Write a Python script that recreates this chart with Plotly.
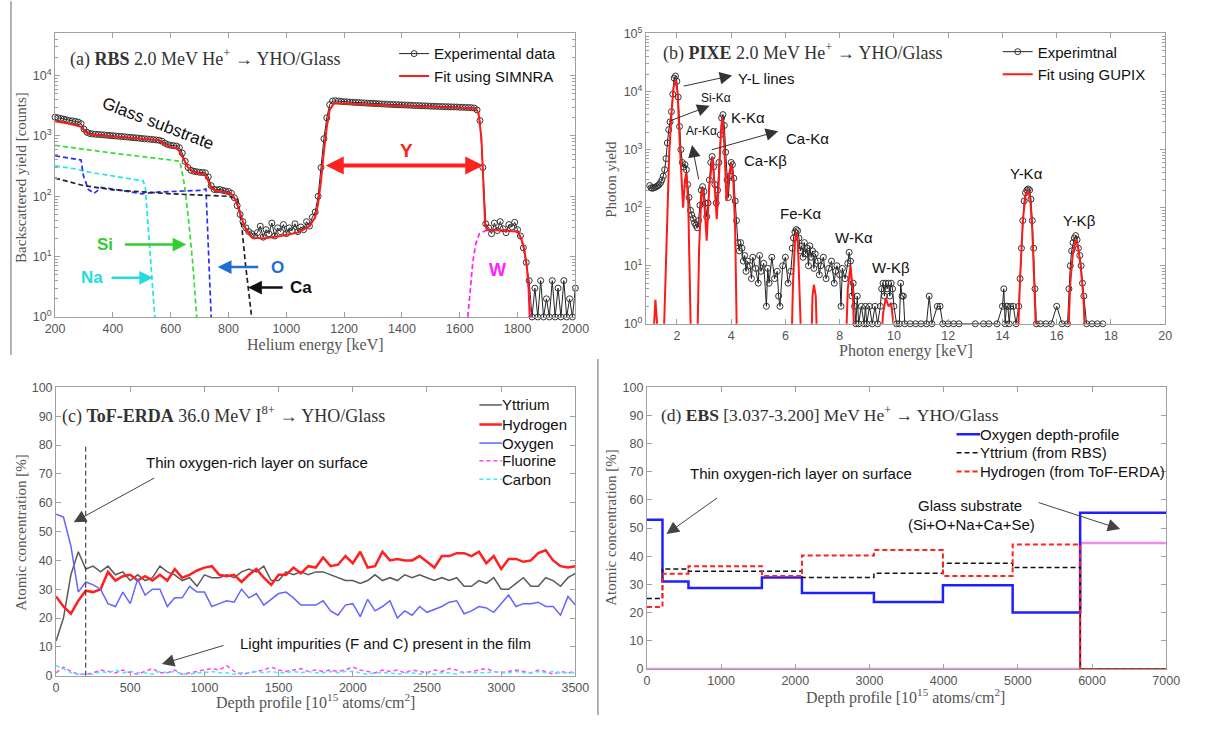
import plotly.graph_objects as go

# page is 1207x731; the browser adds an 8px body margin around the figure
PAGE_W, PAGE_H = 1207, 731
OFF = 8
W, H = PAGE_W - 2 * OFF, PAGE_H - 2 * OFF

# ---------------- (a) RBS data ----------------
rbs_energy = list(range(200, 2001, 10))
rbs_counts = [
    2050, 2000, 1950, 1900, 1850, 1800, 1780, 1750, 1700, 1600,
    1300, 1150, 1100, 1080, 1070, 1060, 1050, 1040, 1030, 1020,
    1010, 1000, 990, 980, 970, 960, 950, 940, 930, 920,
    910, 900, 890, 880, 870, 860, 850, 820, 760, 720,
    700, 690, 680, 640, 520, 380, 300, 270, 260, 255,
    250, 248, 245, 210, 150, 130, 128, 130, 125, 122,
    120, 112, 95, 70, 50, 38, 30, 26, 24, 22,
    25, 32, 21, 28, 24, 36, 22, 30, 26, 34,
    24, 30, 27, 35, 26, 31, 28, 38, 32, 45,
    55, 100, 300, 900, 2000, 3300, 3800, 3850, 3800, 3750,
    3700, 3680, 3650, 3620, 3600, 3580, 3550, 3530, 3500, 3480,
    3460, 3440, 3420, 3400, 3380, 3360, 3340, 3320, 3300, 3290,
    3280, 3260, 3250, 3230, 3210, 3200, 3180, 3170, 3150, 3140,
    3120, 3110, 3100, 3080, 3070, 3060, 3050, 3040, 3030, 3020,
    3000, 2990, 2980, 2960, 2950, 2900, 2700, 1800, 300, 35,
    30, 24, 36, 27, 38, 29, 25, 34, 31, 37,
    28, 22, 14, 8, 4, 1, 3, 1, 4, 1,
    2, 1, 4, 1, 3, 1, 4, 1, 2, 1,
    3,
]
rbs_fit = [
    (200, 1750), (250, 1600), (290, 1420), (305, 1150), (320, 1060), (400, 990),
    (500, 900), (560, 850), (580, 720), (600, 660), (625, 620), (640, 460),
    (660, 300), (680, 250), (700, 240), (718, 230), (728, 190), (740, 135),
    (760, 122), (800, 115), (815, 105), (830, 75), (845, 45), (860, 28),
    (880, 21), (920, 20), (980, 22), (1040, 25), (1080, 32), (1100, 45),
    (1110, 75), (1120, 180), (1130, 550), (1140, 1400), (1150, 2700), (1165, 3500),
    (1200, 3450), (1300, 3280), (1400, 3150), (1500, 3050), (1600, 2950), (1655, 2850),
    (1665, 2400), (1675, 900), (1682, 150), (1688, 32), (1700, 28), (1750, 27),
    (1800, 26), (1812, 20), (1822, 14), (1832, 7), (1838, 3), (1842, 1),
]
si_curve = [(200, 700), (400, 520), (600, 400), (632, 380), (648, 150), (662, 40), (676, 8), (690, 1)]
na_curve = [(200, 320), (280, 280), (300, 260), (400, 220), (505, 180), (512, 140), (522, 30), (534, 5), (545, 1)]
o_curve = [(200, 470), (290, 400), (298, 220), (315, 130), (335, 112), (360, 140), (400, 132),
           (460, 118), (500, 110), (560, 118), (640, 120), (700, 125), (722, 132), (728, 30),
           (734, 6), (740, 1)]
ca_curve = [(200, 200), (300, 150), (400, 128), (500, 118), (600, 110), (700, 105), (800, 100),
            (832, 90), (845, 35), (858, 8), (868, 3), (880, 1)]
w_curve = [(1628, 1), (1636, 3), (1645, 8), (1655, 16), (1668, 24), (1690, 27), (1750, 27.5),
           (1800, 26.5), (1815, 19), (1825, 12), (1835, 5), (1842, 2), (1846, 1)]

# ---------------- (b) PIXE data ----------------
pixe_points = [
    (1.00, 240), (1.05, 220), (1.10, 215), (1.15, 220), (1.20, 225), (1.25, 230), (1.30, 240),
    (1.35, 250), (1.40, 270), (1.45, 300), (1.50, 350), (1.55, 450), (1.60, 700), (1.65, 1300),
    (1.70, 2200), (1.75, 3000), (1.80, 4500), (1.85, 9000), (1.90, 17000), (1.95, 18500),
    (2.00, 15000), (2.05, 8000), (2.10, 2500), (2.15, 1000), (2.20, 600), (2.25, 500), (2.30, 550),
    (2.35, 450), (2.40, 250), (2.45, 150), (2.50, 90), (2.55, 75), (2.60, 65), (2.65, 55),
    (2.70, 50), (2.75, 45), (2.80, 60), (2.85, 110), (2.90, 200), (2.95, 230), (3.00, 190),
    (3.05, 120), (3.10, 70), (3.15, 120), (3.20, 300), (3.25, 600), (3.30, 760), (3.35, 500),
    (3.40, 250), (3.45, 120), (3.50, 200), (3.55, 600), (3.60, 1800), (3.65, 3500), (3.70, 4000),
    (3.75, 2600), (3.80, 900), (3.85, 300), (3.90, 150), (3.95, 350), (4.00, 600), (4.05, 550),
    (4.10, 320), (4.15, 130), (4.20, 60), (4.25, 25), (4.30, 18), (4.35, 25), (4.40, 20),
    (4.45, 12), (4.50, 15), (4.55, 8), (4.60, 12), (4.70, 10), (4.75, 6), (4.80, 14), (4.90, 9),
    (5.00, 5), (5.05, 15), (5.10, 8), (5.20, 11), (5.30, 2), (5.35, 9), (5.40, 5), (5.50, 14),
    (5.60, 6), (5.70, 8), (5.75, 3), (5.80, 2), (5.90, 10), (6.00, 14), (6.10, 5), (6.20, 8),
    (6.25, 20), (6.30, 30), (6.35, 38), (6.40, 42), (6.45, 40), (6.50, 30), (6.55, 18),
    (6.60, 22), (6.65, 14), (6.70, 25), (6.75, 16), (6.80, 20), (6.85, 10), (6.90, 22),
    (6.95, 14), (7.00, 18), (7.05, 9), (7.10, 16), (7.20, 12), (7.25, 7), (7.30, 10), (7.40, 14),
    (7.50, 6), (7.60, 9), (7.70, 12), (7.80, 5), (7.85, 8), (7.90, 10), (8.00, 7), (8.05, 2),
    (8.10, 9), (8.20, 6), (8.30, 11), (8.35, 17), (8.40, 12), (8.45, 3), (8.50, 5), (8.55, 2),
    (8.60, 1), (8.65, 3), (8.70, 1), (8.80, 2), (8.90, 1), (8.95, 2), (9.00, 1), (9.10, 2),
    (9.20, 1), (9.30, 2), (9.40, 1), (9.50, 2), (9.55, 4), (9.60, 5), (9.65, 3), (9.70, 5),
    (9.75, 4), (9.80, 5), (9.85, 3), (9.90, 5), (9.95, 4), (10.00, 2), (10.10, 1), (10.20, 1),
    (10.25, 5), (10.30, 3), (10.35, 3), (10.40, 1), (10.60, 1), (10.80, 1), (11.00, 1),
    (11.20, 1), (11.30, 3), (11.40, 1), (11.60, 2), (11.70, 2), (11.80, 1), (12.00, 1),
    (12.20, 1), (12.40, 1), (13.00, 1), (13.30, 1), (13.50, 1), (13.80, 1), (14.00, 2),
    (14.05, 4), (14.10, 1), (14.15, 2), (14.20, 2), (14.25, 1), (14.30, 2), (14.40, 2),
    (14.50, 1), (14.60, 2), (14.65, 6), (14.70, 20), (14.75, 60), (14.80, 130), (14.85, 180),
    (14.90, 200), (14.95, 210), (15.00, 200), (15.05, 140), (15.10, 60), (15.15, 20),
    (15.20, 4), (15.25, 1), (15.40, 1), (15.60, 1), (15.80, 1), (16.00, 2), (16.20, 1),
    (16.40, 1), (16.45, 4), (16.50, 10), (16.55, 18), (16.60, 25), (16.65, 30), (16.70, 33),
    (16.75, 28), (16.80, 20), (16.85, 15), (16.90, 10), (16.95, 5), (17.00, 3), (17.10, 1),
    (17.30, 1), (17.50, 1), (17.70, 1),
]
pixe_fit = [
    (1.05, 0.3), (1.15, 0.8), (1.21, 2.6), (1.27, 0.8), (1.35, 0.3), (1.50, 0.3), (1.58, 8),
    (1.65, 120), (1.72, 900), (1.80, 4000), (1.88, 12000), (1.96, 15500), (2.03, 9000),
    (2.10, 1500), (2.17, 250), (2.23, 100), (2.30, 300), (2.35, 400), (2.42, 120), (2.48, 8),
    (2.53, 0.3), (2.75, 0.3), (2.82, 20), (2.90, 150), (2.96, 215), (3.03, 90), (3.10, 27),
    (3.20, 250), (3.32, 740), (3.40, 200), (3.47, 63), (3.55, 300), (3.62, 1800), (3.68, 3600),
    (3.75, 1200), (3.83, 130), (3.92, 350), (4.00, 590), (4.08, 300), (4.15, 40), (4.22, 0.3),
    (6.22, 0.3), (6.28, 5), (6.35, 25), (6.40, 37), (6.46, 25), (6.53, 5), (6.60, 0.3),
    (6.95, 0.3), (7.00, 3), (7.05, 4.7), (7.12, 3), (7.18, 0.3),
    (8.22, 0.3), (8.30, 4), (8.40, 10), (8.48, 4), (8.56, 0.3),
    (9.50, 0.3), (9.60, 1.5), (9.70, 2.8), (9.80, 2.0), (9.90, 2.3), (9.98, 1.0), (10.05, 0.3),
    (14.55, 0.3), (14.65, 6), (14.75, 60), (14.85, 160), (14.93, 200), (15.02, 150),
    (15.10, 40), (15.18, 4), (15.26, 0.3),
    (16.40, 0.3), (16.50, 5), (16.60, 17), (16.70, 28), (16.78, 22), (16.88, 10), (16.98, 3),
    (17.08, 0.3),
]

# ---------------- (c) ToF-ERDA data ----------------
erda_depth = list(range(0, 3501, 50))
erda_yttrium = [12, 20, 35, 43, 37, 38, 36, 38, 35, 36, 33, 35, 33, 34, 38, 36, 35, 33, 34, 31,
                35, 34, 34, 35, 34, 36, 37, 36, 38, 33, 33, 36, 35, 36, 35, 36, 36, 35, 34, 33,
                33, 32, 33, 35, 33, 34, 33, 35, 34, 35, 34, 33, 34, 33, 34, 31, 31, 33, 32, 34,
                30, 30, 32, 34, 31, 31, 34, 33, 31, 34, 35.5]
erda_hydrogen = [27.5, 24, 21.5, 26, 29.5, 29, 30, 36, 33, 34.5, 35, 33, 34.5, 33, 35, 33, 37, 34,
                 35, 36.5, 37.5, 38, 35, 34.5, 35, 32.5, 35, 37, 34, 31.5, 35, 35, 37.5, 35.5, 38,
                 37.5, 41, 38, 38.5, 41.5, 39, 43, 37.5, 38, 43, 40, 40.5, 40, 40, 41.5, 39.5, 37.5,
                 41.5, 41.5, 42.5, 42.5, 41.5, 43, 39, 41.5, 37, 40.5, 40.5, 39.5, 40, 42.5, 43.5,
                 40, 38, 37.5, 38]
erda_oxygen = [56, 55, 45, 29, 32.5, 31.5, 30, 25, 24, 29, 25, 33.5, 28, 30, 30, 24, 27, 27, 31,
               29, 29, 24, 25, 26, 25.5, 30, 27, 28.5, 24.5, 26.5, 28.5, 29, 27, 24.5, 24.5, 24.5,
               26, 22.5, 21, 24.5, 25, 20.5, 26.5, 22.5, 24, 26, 20, 22.5, 21, 24, 22, 23, 24,
               25.5, 26, 21.5, 22.5, 24, 23.5, 22, 25, 28, 24, 25, 25, 25.5, 24, 24, 21, 27.5, 24.5]
erda_fluorine = [1, 3, 1.5, 0.5, 0.5, 1, 2, 1.5, 1, 2, 1, 0.5, 1.5, 2.5, 1, 1, 2, 0.5, 1, 1.5,
                 2, 2.5, 2, 3.5, 1.5, 0.5, 1, 1.5, 2, 3, 2, 1.5, 2, 2.5, 1.5, 2, 1.5, 2, 1.5, 2,
                 3, 2, 1.5, 1, 2, 1.5, 2, 1, 2, 1.5, 1, 2, 1.5, 2.5, 2, 1, 1.5, 2, 2.5, 1.5, 1,
                 1.5, 2, 1.5, 1, 2, 1.5, 0.5, 1.5, 1, 1.5]
erda_carbon = [3.5, 2.5, 1, 0.5, 0.5, 0.5, 1.5, 1, 2, 1, 1.5, 1, 1, 0.5, 1.5, 1, 1.5, 0.5, 0.5,
               1, 1, 1.5, 1, 1, 0.5, 1, 1, 1.5, 1, 1.5, 1, 1, 1.5, 1, 1.5, 1, 1, 1.5, 1, 1.5,
               1.5, 1, 0.5, 1, 1, 1, 0.5, 1, 1, 0.5, 1, 0.5, 1, 1, 0.5, 1.5, 1, 1, 1, 1.5, 1,
               1, 1.5, 1, 1, 1.5, 1, 1.5, 1, 1, 1]
surface_layer_depth = [200, 200]
surface_layer_marker = [0, 80]

# ---------------- (d) EBS data ----------------
ebs_bounds = [0, 210, 560, 1550, 2090, 3060, 3990, 4930, 5840, 7000]
ebs_oxygen = [53, 31, 28.7, 32.5, 27, 23.8, 29.7, 20, 55.5]
ebs_yttrium = [25, 35.5, 34.7, 34.7, 32.5, 34, 37.5, 36, 0]
ebs_hydrogen = [22, 33.8, 36.5, 33, 40.3, 42.2, 33, 44.2, 0]
ebs_substrate = [0, 0, 0, 0, 0, 0, 0, 0, 44.7]

# ---------------- styling ----------------
SERIF = "Liberation Serif, DejaVu Serif, serif"
SANS = "Liberation Sans, Arial, sans-serif"
TICKF = "Liberation Sans Narrow, Liberation Sans, Arial, sans-serif"
FRAME = "#a0a0a0"
TICKC = "#555555"
TXT = "#333333"


def PX(px):
    return (px - OFF) / W


def PY(py):
    return 1 - (py - OFF) / H


def split(pairs):
    return [p[0] for p in pairs], [p[1] for p in pairs]


fig = go.Figure()

# (a)
fig.add_trace(go.Scatter(x=rbs_energy, y=rbs_counts, mode="lines+markers", name="Experimental data",
                         line=dict(color="#222222", width=1),
                         marker=dict(symbol="circle-open", size=6, color="#333333", line=dict(width=1)),
                         cliponaxis=False, xaxis="x", yaxis="y", legend="legend"))
for pairs, col in [(si_curve, "#33dd33"), (na_curve, "#22e5e5"), (o_curve, "#2a2aff"),
                   (ca_curve, "#222222"), (w_curve, "#ff22ff")]:
    xs, ys = split(pairs)
    fig.add_trace(go.Scatter(x=xs, y=ys, mode="lines", showlegend=False,
                             line=dict(color=col, width=1.7, dash="5px,3px"),
                             xaxis="x", yaxis="y"))
fx, fy = split(rbs_fit)
fig.add_trace(go.Scatter(x=fx, y=fy, mode="lines", name="Fit using SIMNRA",
                         line=dict(color="#ff1a1a", width=2), xaxis="x", yaxis="y", legend="legend"))

# (b)
bx, by = split(pixe_points)
fig.add_trace(go.Scatter(x=bx, y=by, mode="lines+markers", name="Experimtnal",
                         line=dict(color="#222222", width=1),
                         marker=dict(symbol="circle-open", size=6, color="#333333", line=dict(width=1)),
                         cliponaxis=False, xaxis="x2", yaxis="y2", legend="legend2"))
bfx, bfy = split(pixe_fit)
fig.add_trace(go.Scatter(x=bfx, y=bfy, mode="lines", name="Fit using GUPIX",
                         line=dict(color="#ff1a1a", width=2), xaxis="x2", yaxis="y2", legend="legend2"))

# (c)
erda_series = [("Yttrium", erda_yttrium, "#5a5a5a", 1.5, "solid"),
               ("Hydrogen", erda_hydrogen, "#ff2020", 2.5, "solid"),
               ("Oxygen", erda_oxygen, "#6464ff", 1.5, "solid"),
               ("Fluorine", erda_fluorine, "#ff44ff", 1.5, "4px,3px"),
               ("Carbon", erda_carbon, "#44e8ff", 1.5, "4px,3px")]
for name, ys, col, w, dash in erda_series:
    fig.add_trace(go.Scatter(x=erda_depth, y=ys, mode="lines", name=name, showlegend=False,
                             line=dict(color=col, width=w, dash=dash), xaxis="x3", yaxis="y3"))
fig.add_trace(go.Scatter(x=surface_layer_depth, y=surface_layer_marker, mode="lines", showlegend=False,
                         line=dict(color="#222222", width=1, dash="5px,3px"), xaxis="x3", yaxis="y3"))

# (d)
fig.add_trace(go.Scatter(x=ebs_bounds, y=ebs_substrate + [ebs_substrate[-1]], mode="lines",
                         line_shape="hv", showlegend=False, line=dict(color="#f08cf0", width=2.5),
                         cliponaxis=False, xaxis="x4", yaxis="y4"))
ebs_series = [("Oxygen depth-profile", ebs_oxygen, "#2020ff", 2.5, "solid"),
              ("Yttrium (from RBS)", ebs_yttrium, "#111111", 1.5, "5px,3px"),
              ("Hydrogen (from ToF-ERDA)", ebs_hydrogen, "#ff2020", 2, "5px,3px")]
for name, ys, col, w, dash in ebs_series:
    fig.add_trace(go.Scatter(x=ebs_bounds, y=ys + [ys[-1]], mode="lines", line_shape="hv", name=name,
                             showlegend=False, line=dict(color=col, width=w, dash=dash), cliponaxis=False,
                             xaxis="x4", yaxis="y4"))


def axis(domain, anchor, **kw):
    d = dict(domain=domain, anchor=anchor, showline=True, linecolor=FRAME, linewidth=1, mirror="ticks",
             ticks="inside", ticklen=5, tickcolor=FRAME, showgrid=False, zeroline=False,
             tickfont=dict(family=TICKF, size=12.5, color=TICKC))
    d.update(kw)
    return d


dec_vals = [1, 10, 100, 1000, 10000, 100000]
dec_text = ["10<sup>%d</sup>" % i for i in range(6)]
minor_vals = [m * 10 ** e for e in range(5) for m in range(2, 10)]
minor = dict(ticks="inside", ticklen=3, tickcolor=FRAME, tickvals=minor_vals, showgrid=False)

A = dict(x0=54, x1=585, y0=33, y1=323)
B = dict(x0=657, x1=1187, y0=33, y1=330)
C = dict(x0=55, x1=585, y0=395, y1=690)
D = dict(x0=658, x1=1188, y0=395, y1=683)


def dom(b):
    return [PX(b["x0"]), PX(b["x1"])], [PY(b["y1"]), PY(b["y0"])]


ax_, ay_ = dom(A)
bx_, by_ = dom(B)
cx_, cy_ = dom(C)
dx_, dy_ = dom(D)

fig.update_layout(
    width=W, height=H, margin=dict(l=0, r=0, t=0, b=0),
    paper_bgcolor="white", plot_bgcolor="white",
    xaxis=axis(ax_, "y", range=[200, 2000], tickvals=list(range(200, 2001, 200))),
    yaxis=axis(ay_, "x", type="log", range=[0, 4.7], tickvals=dec_vals, ticktext=dec_text, minor=minor),
    xaxis2=axis(bx_, "y2", range=[0.86, 20], tickvals=list(range(2, 21, 2))),
    yaxis2=axis(by_, "x2", type="log", range=[0, 5], tickvals=dec_vals, ticktext=dec_text, minor=minor),
    xaxis3=axis(cx_, "y3", range=[0, 3500], tickvals=list(range(0, 3501, 500))),
    yaxis3=axis(cy_, "x3", range=[0, 100], tickvals=list(range(0, 101, 10))),
    xaxis4=axis(dx_, "y4", range=[0, 7000], tickvals=list(range(0, 7001, 1000))),
    yaxis4=axis(dy_, "x4", range=[0, 100], tickvals=list(range(0, 101, 10))),
    showlegend=True,
)

leg_common = dict(bgcolor="rgba(0,0,0,0)", borderwidth=0, xanchor="left", yanchor="top",
                  font=dict(family=SANS, size=15, color="#111111"), tracegroupgap=0, itemwidth=30)
fig.update_layout(
    legend=dict(x=PX(400), y=PY(37), **leg_common),
    legend2=dict(x=PX(1016), y=PY(35), **leg_common),
)

ann = []
shapes = []


def text(px, py, s, size=15, color="#111111", family=SANS, angle=0, xanchor="center"):
    ann.append(dict(x=PX(px), y=PY(py), xref="paper", yref="paper", text=s, showarrow=False,
                    xanchor=xanchor, yanchor="middle", textangle=angle,
                    font=dict(family=family, size=size, color=color)))


def arrow(tx, ty, hx, hy, color="#333333", width=1, size=2.5, head=2, side="end"):
    ann.append(dict(x=PX(hx), y=PY(hy), xref="paper", yref="paper", ax=tx - hx, ay=ty - hy,
                    axref="pixel", ayref="pixel", text="", showarrow=True, arrowhead=head,
                    arrowsize=size, arrowwidth=width, arrowcolor=color, arrowside=side,
                    startarrowhead=head, startarrowsize=size))


def legend_rows(x0, x1, tx, rows, series):
    for ry, (name, _, col, w, dash) in zip(rows, series):
        shapes.append(dict(type="line", xref="paper", yref="paper", x0=PX(x0), x1=PX(x1),
                           y0=PY(ry), y1=PY(ry), line=dict(color=col, width=w, dash=dash)))
        text(tx, ry, name, 15, "#111111", SANS, xanchor="left")


# titles
text(67, 58, "(a) <b>RBS</b> 2.0 MeV He<sup>+</sup> → YHO/Glass", 18, TXT, SERIF, xanchor="left")
text(672, 52, "(b) <b>PIXE</b> 2.0 MeV He<sup>+</sup> → YHO/Glass", 18, TXT, SERIF, xanchor="left")
text(59, 423, "(c) <b>ToF-ERDA</b> 36.0 MeV I<sup>8+</sup> → YHO/Glass", 18, TXT, SERIF, xanchor="left")
text(670, 422, "(d) <b>EBS</b> [3.037-3.200] MeV He<sup>+</sup> → YHO/Glass", 17.5, TXT, SERIF, xanchor="left")

# axis titles
text(320, 352, "Helium energy [keV]", 16, TICKC, SERIF)
text(19, 180, "Backscattered yield [counts]", 15, TICKC, SERIF, angle=-90)
text(922, 358, "Photon energy [keV]", 16, TICKC, SERIF)
text(621, 182, "Photon yield", 15, TICKC, SERIF, angle=-90)
text(320, 716, "Depth profile [10<sup>15</sup> atoms/cm<sup>2</sup>]", 16, TICKC, SERIF)
text(19, 543, "Atomic concentration [%]", 15, TICKC, SERIF, angle=-90)
text(922, 711, "Depth profile [10<sup>15</sup> atoms/cm<sup>2</sup>]", 16, TICKC, SERIF)
text(622, 538, "Atomic concentration [%]", 15, TICKC, SERIF, angle=-90)

# (a) annotations
text(159, 125, "Glass substrate", 17, "#111111", SANS, angle=21)
text(105, 249, "<b>Si</b>", 17, "#33cc33")
arrow(125, 249, 188, 249, "#33cc33", 2.5, 1.1)
text(92, 283, "<b>Na</b>", 17, "#22dddd")
arrow(111, 283, 154, 283, "#22dddd", 2.5, 1.1)
text(281, 272, "<b>O</b>", 17, "#1f6fd0")
arrow(262, 272, 220, 272, "#1f6fd0", 2.5, 1.1)
text(305, 293, "<b>Ca</b>", 17, "#111111")
arrow(287, 293, 251, 293, "#111111", 2.5, 1.1)
text(413, 153, "<b>Y</b>", 19, "#ff2020")
arrow(332, 168, 491, 168, "#ff2020", 4, 0.9, 2, "end+start")
text(506, 275, "<b>W</b>", 18, "#ff22ff")

# (b) annotations
text(749, 79, "Y-L lines", 15, xanchor="left")
arrow(695, 87, 745, 76, "#333333", 1, 2.5)
text(711, 99, "Si-Kα", 12, xanchor="left")
arrow(680, 123, 722, 107, "#333333", 1, 2.5)
text(696, 133, "Ar-Kα", 12, xanchor="left")
arrow(711, 183, 704, 147, "#333333", 1, 2.5)
text(742, 119, "K-Kα", 15, xanchor="left")
text(798, 140, "Ca-Kα", 15, xanchor="left")
arrow(724, 152, 792, 133, "#333333", 1, 2.5)
text(755, 163, "Ca-Kβ", 15, xanchor="left")
text(792, 217, "Fe-Kα", 15, xanchor="left")
text(848, 242, "W-Kα", 15, xanchor="left")
text(886, 272, "W-Kβ", 15, xanchor="left")
text(1027, 176, "Y-Kα", 15, xanchor="left")
text(1081, 224, "Y-Kβ", 15, xanchor="left")

# (c) annotations + legend
text(260, 472, "Thin oxygen-rich layer on surface", 15)
arrow(155, 488, 73, 533, "#444444", 1, 2.5)
text(391, 657, "Light impurities (F and C) present in the film", 15)
arrow(226, 659, 163, 678, "#444444", 1, 2.5)
legend_rows(487, 510, 508, [413, 433, 452, 470, 489], erda_series)

# (d) annotations + legend
text(815, 483, "Thin oxygen-rich layer on surface", 15)
arrow(730, 508, 678, 545, "#444444", 1, 2.5)
text(988, 516, "Glass substrate", 15)
text(989, 535, "(Si+O+Na+Ca+Se)", 15)
arrow(1058, 513, 1141, 540, "#444444", 1, 2.5)
legend_rows(974, 998, 996, [443, 462, 481], ebs_series)

# panel separators
shapes += [
    dict(type="line", xref="paper", yref="paper", x0=PX(9), x1=PX(9), y0=PY(0), y1=PY(362),
         line=dict(color="#999999", width=1.5)),
    dict(type="line", xref="paper", yref="paper", x0=PX(608), x1=PX(608), y0=PY(366), y1=PY(731),
         line=dict(color="#999999", width=1.5)),
]

fig.update_layout(annotations=ann, shapes=shapes)

fig.write_html("out.html")
